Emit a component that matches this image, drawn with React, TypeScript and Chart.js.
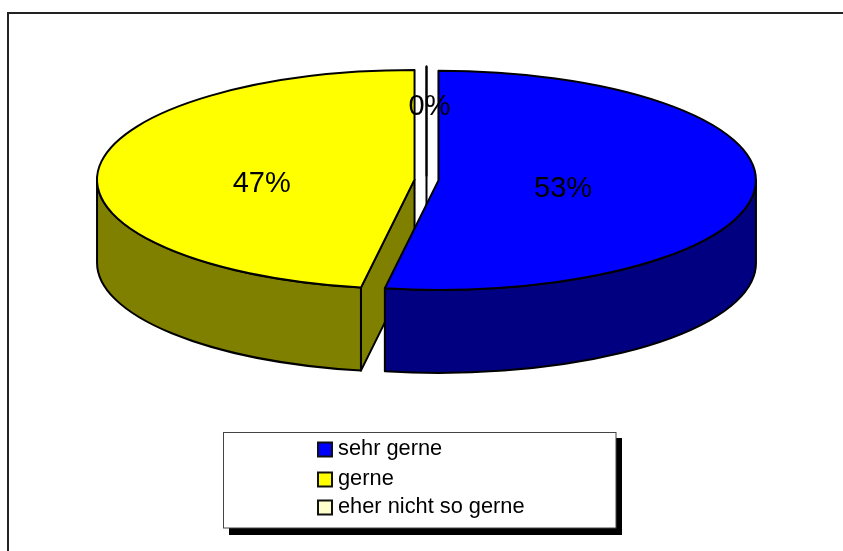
import React, { useEffect, useRef } from "react";
import { Chart, registerables } from "chart.js";

Chart.register(...registerables);

const categories = ["sehr gerne", "gerne", "eher nicht so gerne"];
const shares = [52.7, 47.3, 0];
const topColors = ["#0000FF", "#FFFF00", "#FFFFCC"];
const wallColors = ["#000080", "#808000", "#808066"];
const percentLabels = ["53%", "47%", "0%"];

const SQUASH = 0.345;
const DEPTH = 83;
const EXPLODE = 12;
const CENTER_Y = 180;
const DRAW_ORDER = [2, 1, 0];
const LABEL_FRACTION = [0.394, 0.483, 0.65];
const LABEL_SHIFT = [
  [0, 5],
  [0, 9],
  [3, 2],
];

const norm = (a: number) => {
  const t = Math.PI * 2;
  return ((a % t) + t) % t;
};

const pie3d = {
  id: "pie3d",
  beforeDraw(chart: any) {
    const { ctx } = chart;
    ctx.save();
    ctx.fillStyle = "#fff";
    ctx.fillRect(0, 0, chart.width, chart.height);
    ctx.strokeStyle = "#222";
    ctx.lineWidth = 2;
    ctx.strokeRect(8, 13, 880, 600);
    ctx.restore();
  },
  beforeDatasetsDraw(chart: any) {
    const { ctx } = chart;
    const arcs = chart.getDatasetMeta(0).data;
    const ellipseCenter = (el: any) => {
      const mid = (el.startAngle + el.endAngle) / 2;
      const d = el.options.offset;
      return { cx: el.x + Math.cos(mid) * d, cy: CENTER_Y + Math.sin(mid) * d * SQUASH };
    };
    ctx.save();
    ctx.lineWidth = 2;
    ctx.strokeStyle = "#000";
    ctx.lineJoin = "round";
    for (const i of DRAW_ORDER) {
      const el = arcs[i];
      const r = el.outerRadius;
      const ry = r * SQUASH;
      const a = el.startAngle;
      const b = el.endAngle;
      const { cx, cy } = ellipseCenter(el);
      const px = (t: number) => cx + Math.cos(t) * r;
      const py = (t: number) => cy + Math.sin(t) * ry;
      ctx.fillStyle = wallColors[i];

      // radial faces turned toward the viewer
      const face = (t: number) => {
        ctx.beginPath();
        ctx.moveTo(cx, cy);
        ctx.lineTo(px(t), py(t));
        ctx.lineTo(px(t), py(t) + DEPTH);
        ctx.lineTo(cx, cy + DEPTH);
        ctx.closePath();
        ctx.fill();
        ctx.stroke();
      };
      if (Math.sin(a - Math.PI / 2) > 1e-6) face(a);
      if (Math.sin(b + Math.PI / 2) > 1e-6) face(b);
      if (b === a) {
        ctx.beginPath();
        ctx.moveTo(cx, cy + DEPTH);
        ctx.lineTo(px(a), py(a));
        ctx.stroke();
      }

      // outer wall: the part of the rim on the front half
      const sa = norm(a);
      const span = b - a;
      const ranges: [number, number][] = [];
      for (const shift of [0, Math.PI * 2]) {
        const lo = Math.max(sa, shift);
        const hi = Math.min(sa + span, shift + Math.PI);
        if (hi > lo) ranges.push([lo, hi]);
      }
      for (const [lo, hi] of ranges) {
        ctx.beginPath();
        ctx.ellipse(cx, cy, r, ry, 0, lo, hi);
        ctx.ellipse(cx, cy + DEPTH, r, ry, 0, hi, lo, true);
        ctx.closePath();
        ctx.fill();
        ctx.stroke();
      }

      // top face
      ctx.beginPath();
      ctx.moveTo(cx, cy);
      ctx.ellipse(cx, cy, r, ry, 0, a, b);
      ctx.closePath();
      ctx.fillStyle = topColors[i];
      ctx.fill();
      ctx.stroke();
    }

    // percent labels
    ctx.fillStyle = "#000";
    ctx.font = '29px "Liberation Sans"';
    ctx.textAlign = "center";
    ctx.textBaseline = "middle";
    percentLabels.forEach((text, i) => {
      const el = arcs[i];
      const mid = (el.startAngle + el.endAngle) / 2;
      const { cx, cy } = ellipseCenter(el);
      const k = LABEL_FRACTION[i];
      const r = el.outerRadius;
      ctx.fillText(
        text,
        cx + Math.cos(mid) * r * k + LABEL_SHIFT[i][0],
        cy + Math.sin(mid) * r * SQUASH * k + LABEL_SHIFT[i][1]
      );
    });
    ctx.restore();
    return false;
  },
  afterDraw(chart: any) {
    const { ctx } = chart;
    ctx.save();
    ctx.fillStyle = "#000";
    ctx.fillRect(229, 438, 393, 97);
    ctx.fillStyle = "#fff";
    ctx.fillRect(224, 433, 392, 95);
    ctx.strokeStyle = "#444";
    ctx.lineWidth = 1;
    ctx.strokeRect(223.5, 432.5, 392.5, 95.5);
    const swatchY = [442.5, 472.5, 500.5];
    const textY = [455, 485, 513];
    ctx.font = '21.8px "Liberation Sans"';
    ctx.textAlign = "left";
    ctx.textBaseline = "alphabetic";
    categories.forEach((name, i) => {
      ctx.fillStyle = topColors[i];
      ctx.fillRect(318, swatchY[i], 14, 14);
      ctx.strokeStyle = "#111";
      ctx.lineWidth = 2;
      ctx.strokeRect(318, swatchY[i], 14, 14);
      ctx.fillStyle = "#000";
      ctx.fillText(name, 338, textY[i]);
    });
    ctx.restore();
  },
};

export default function App() {
  const ref = useRef<HTMLCanvasElement>(null);
  useEffect(() => {
    const chart = new Chart(ref.current!, {
      type: "pie",
      data: {
        labels: categories,
        datasets: [
          {
            data: shares,
            backgroundColor: topColors,
            borderColor: "#000",
            offset: EXPLODE,
          },
        ],
      },
      options: {
        animation: false,
        responsive: false,
        radius: 317.5,
        layout: { padding: { left: 10, right: 0, top: 0, bottom: 191 } },
        plugins: { legend: { display: false }, tooltip: { enabled: false } },
      },
      plugins: [pie3d],
    } as any);
    return () => chart.destroy();
  }, []);
  return (
    <canvas
      ref={ref}
      width={843}
      height={551}
      style={{ position: "fixed", left: 0, top: 0, width: 843, height: 551, display: "block" }}
    />
  );
}
